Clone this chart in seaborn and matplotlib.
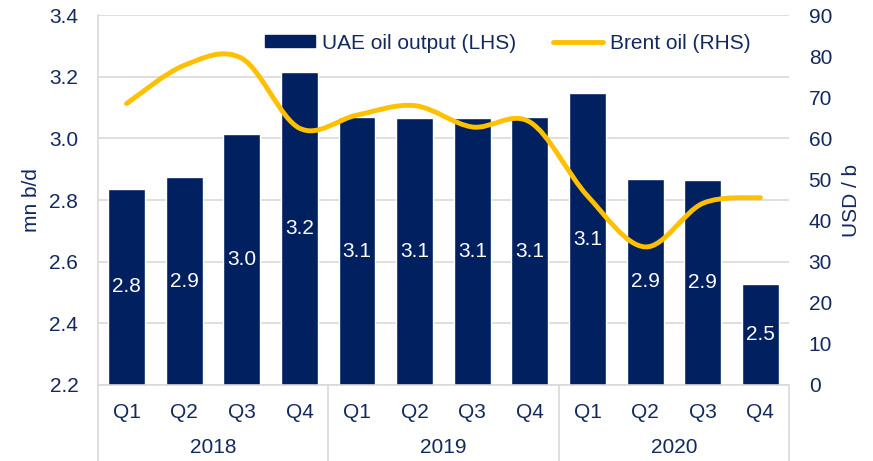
import numpy as np
import matplotlib
matplotlib.use("Agg")
import matplotlib.pyplot as plt
import seaborn as sns
from matplotlib.path import Path
from matplotlib.patches import PathPatch, Patch
from matplotlib.lines import Line2D

years = ["2018", "2019", "2020"]
quarters = ["Q1", "Q2", "Q3", "Q4"]
uae_output = [2.836, 2.874, 3.013, 3.215,
              3.069, 3.066, 3.066, 3.069,
              3.146, 2.869, 2.866, 2.529]
brent = [68.5, 77.8, 79.5, 62.5,
         65.7, 68.0, 62.8, 64.0,
         46.0, 33.6, 44.2, 45.6]

navy = "#002060"
gold = "#FFC000"
txt = "#13295E"
grid = "#D9D9D9"

sns.set_style("white")
plt.rcParams["font.family"] = ["Liberation Sans", "DejaVu Sans"]
plt.rcParams["font.size"] = 15

cats = [f"{y} {q}" for y in years for q in quarters]
n = len(cats)

fig = plt.figure(figsize=(8.73, 4.61), dpi=100)
ax = fig.add_axes([0.112, 0.165, 0.792, 0.802])

sns.barplot(x=cats, y=uae_output, ax=ax, color=navy, width=0.64,
            saturation=1, errorbar=None)
ax.bar_label(ax.containers[0], labels=[f"{v:.1f}" for v in uae_output],
             label_type="center", color="white", fontsize=15)

ax.set_ylim(2.2, 3.4)
ax.set_xlim(-0.5, n - 0.5)
ax.set_yticks(np.arange(2.2, 3.41, 0.2))
ax.set_yticklabels([f"{t:.1f}" for t in np.arange(2.2, 3.41, 0.2)])
ax.set_xticks(range(n))
ax.set_xticklabels(quarters * len(years))
ax.tick_params(axis="x", length=0, pad=13, colors=txt)
ax.tick_params(axis="y", length=0, pad=14, colors=txt)
ax.grid(axis="y", color=grid, lw=1.2)
ax.set_axisbelow(True)
for s in ["top", "right"]:
    ax.spines[s].set_visible(False)
for s in ["left", "bottom"]:
    ax.spines[s].set_color(grid)
    ax.spines[s].set_linewidth(1.2)
ax.set_xlabel("")
ax.set_ylabel("mn b/d", color=txt, fontsize=15)
ax.yaxis.set_label_coords(-0.082, 0.5)

# year group labels and separators
xt = ax.get_xaxis_transform()
for b in [-0.5, 3.5, 7.5, 11.5]:
    ax.plot([b, b], [0, -0.3], transform=xt, color=grid, lw=1.2, clip_on=False)
for k, y in enumerate(years):
    ax.text(1.5 + 4 * k, -0.17, y, transform=xt, ha="center", va="center",
            color=txt, fontsize=15)

# Brent line, smoothed like the spreadsheet curve
ax2 = ax.twinx()
ax2.set_ylim(0, 90)
ax2.set_yticks(range(0, 91, 10))
ax2.tick_params(axis="y", length=0, pad=14, colors=txt)
for s in ax2.spines.values():
    s.set_visible(False)
ax2.grid(False)
ax2.set_ylabel("USD / b", color=txt, fontsize=15)
ax2.yaxis.set_label_coords(1.076, 0.5)

pts = np.column_stack([np.arange(n), brent])
verts = [tuple(pts[0])]
codes = [Path.MOVETO]
for i in range(n - 1):
    p0 = pts[max(i - 1, 0)]
    p1 = pts[i]
    p2 = pts[i + 1]
    p3 = pts[min(i + 2, n - 1)]
    verts += [tuple(p1 + (p2 - p0) / 6), tuple(p2 - (p3 - p1) / 6), tuple(p2)]
    codes += [Path.CURVE4] * 3
ax2.add_patch(PathPatch(Path(verts, codes), facecolor="none", edgecolor=gold,
                        lw=3.5, capstyle="round"))

handles = [Patch(color=navy), Line2D([], [], color=gold, lw=3.5)]
ax2.legend(handles, ["UAE oil output (LHS)", "Brent oil (RHS)"], ncol=2,
           loc="center", bbox_to_anchor=(0.593, 0.924), frameon=False,
           fontsize=15, handlelength=2.4, handleheight=0.5,
           handletextpad=0.3, columnspacing=1.8, labelcolor=txt)

fig.savefig("out.png", dpi=100)
